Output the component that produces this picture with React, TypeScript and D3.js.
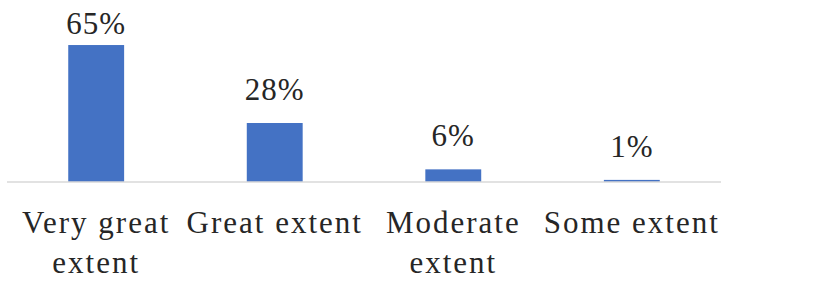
import { useMemo } from "react";
import * as d3 from "d3";

const WIDTH = 838;
const HEIGHT = 281;

const categories = ["Very great extent", "Great extent", "Moderate extent", "Some extent"];
// label lines as shown (wrapped)
const categoryLines = [["Very great", "extent"], ["Great extent"], ["Moderate", "extent"], ["Some extent"]];
const values = [0.65, 0.28, 0.06, 0.01];
const valueLabels = ["65%", "28%", "6%", "1%"];

const BAR_COLOR = "#4472c4";
const FONT = "'Liberation Serif', 'Times New Roman', serif";

export default function App() {
  const x = useMemo(
    () => d3.scaleBand().domain(categories).range([7, 721]).paddingInner(0.687).paddingOuter(0.343),
    []
  );
  const y = useMemo(() => d3.scaleLinear().domain([0, 0.7]).range([182, 34.5]), []);

  return (
    <svg
      width={WIDTH}
      height={HEIGHT}
      style={{ position: "absolute", left: 0, top: 0, background: "#fff" }}
    >
      {categories.map((c, i) => (
        <rect
          key={c}
          x={x(c)}
          y={y(values[i])}
          width={x.bandwidth()}
          height={y(0) - y(values[i])}
          fill={BAR_COLOR}
        />
      ))}
      <line x1={7} x2={721} y1={y(0)} y2={y(0)} stroke="#d9d9d9" strokeWidth={1.5} />
      {categories.map((c, i) => (
        <text
          key={"v" + c}
          x={(x(c) ?? 0) + x.bandwidth() / 2}
          y={Math.max(y(values[i]) - 23, 34)}
          textAnchor="middle"
          fontFamily={FONT}
          fontSize={31}
          letterSpacing={1}
          fill="#262626"
        >
          {valueLabels[i]}
        </text>
      ))}
      {categories.map((c, i) => (
        <text
          key={"c" + c}
          x={(x(c) ?? 0) + x.bandwidth() / 2}
          y={233}
          textAnchor="middle"
          fontFamily={FONT}
          fontSize={31}
          letterSpacing={2}
          fill="#262626"
        >
          {categoryLines[i].map((line, j) => (
            <tspan key={j} x={(x(c) ?? 0) + x.bandwidth() / 2} dy={j === 0 ? 0 : 40}>
              {line}
            </tspan>
          ))}
        </text>
      ))}
    </svg>
  );
}
